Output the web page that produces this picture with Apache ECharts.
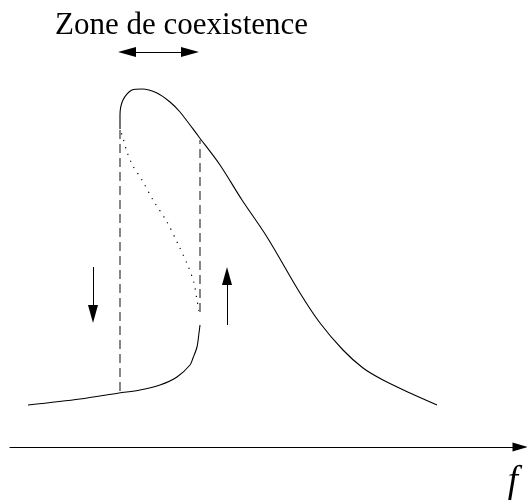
<!DOCTYPE html>
<html>
<head>
<meta charset="utf-8">
<script src="https://cdn.jsdelivr.net/npm/echarts@6/dist/echarts.min.js"></script>
<style>
  html, body { margin: 0; padding: 0; background: #fff; }
  #main { width: 527px; height: 500px; }
</style>
</head>
<body>
<div id="main"></div>
<script>
// branche stable haute (x = frequence, y = amplitude, unites arbitraires)
var upperBranch = [
  [110, 318], [110, 332], [113, 347], [122, 357], [132, 358], [147, 354],
  [160, 345], [170, 335], [189, 310], [210, 282], [232, 247], [257, 210],
  [290, 154], [310, 124], [333, 97], [353, 79], [373, 67], [400, 54], [427, 42]
];
// branche stable basse
var lowerBranch = [
  [18, 42], [70, 48], [109, 54], [130, 57], [150, 62], [167, 70],
  [180, 82], [183, 89], [187, 100], [189, 114], [190, 122]
];
// branche instable (pointillés)
var unstableBranch = [
  [189, 136], [187, 147], [184, 164], [178, 181], [168, 203], [157, 225],
  [143, 247], [132, 267], [123, 281], [117, 295], [113, 309], [110, 318]
];
// limites de la zone de coexistence
var jumpDown = [[110, 56], [110, 320]];
var jumpUp = [[190, 135], [190, 307]];
// flèches (début, pointe)
var arrowDown = [[83, 180], [83, 133]];
var arrowUp = [[217, 122], [217, 171]];
var zoneArrow = [[117, 395], [180, 395]];

var chart = echarts.init(document.getElementById('main'), null, { renderer: 'canvas' });

var black = '#000';
var serif = 'Liberation Serif';
var curve = { color: black, width: 1.1 };

function arrowLine(pts, both) {
  return {
    type: 'line',
    data: [],
    silent: true,
    markLine: {
      silent: true,
      animation: false,
      symbol: both ? ['triangle', 'triangle'] : ['none', 'triangle'],
      symbolSize: [10, 18],
      label: { show: false },
      lineStyle: { color: black, width: 1, type: 'solid' },
      emphasis: { disabled: true },
      data: [[{ coord: pts[0] }, { coord: pts[1] }]]
    }
  };
}

var option = {
  animation: false,
  title: {
    text: 'Zone de coexistence',
    left: 50,
    top: 5,
    textStyle: {
      fontFamily: serif,
      fontWeight: 'normal',
      fontSize: 31,
      color: black
    }
  },
  grid: { left: 10, right: 7, top: 0, bottom: 53, outerBoundsMode: 'none' },
  xAxis: {
    type: 'value',
    min: 0,
    max: 510,
    name: 'f',
    nameLocation: 'end',
    nameGap: 0,
    nameTextStyle: {
      fontFamily: serif,
      fontStyle: 'italic',
      fontSize: 37,
      color: black,
      align: 'right',
      verticalAlign: 'top',
      padding: [17, 2, 0, 0]
    },
    axisLine: {
      show: true,
      symbol: ['none', 'triangle'],
      symbolSize: [9, 15],
      lineStyle: { color: black, width: 1.1 }
    },
    axisTick: { show: false },
    axisLabel: { show: false },
    splitLine: { show: false }
  },
  yAxis: {
    type: 'value',
    min: 0,
    max: 447,
    show: false
  },
  series: [
    { type: 'line', data: upperBranch, smooth: 0.3, symbol: 'none', lineStyle: curve, silent: true },
    { type: 'line', data: lowerBranch, smooth: 0.3, symbol: 'none', lineStyle: curve, silent: true },
    {
      type: 'line', data: unstableBranch, smooth: 0.3, symbol: 'none', silent: true,
      lineStyle: { color: black, width: 1.2, type: [1.2, 6] }
    },
    {
      type: 'line', data: jumpDown, symbol: 'none', silent: true,
      lineStyle: { color: '#7a7a7a', width: 1.8, type: [9, 5] }
    },
    {
      type: 'line', data: jumpUp, symbol: 'none', silent: true,
      lineStyle: { color: '#7a7a7a', width: 1.8, type: [9, 5] }
    },
    arrowLine(arrowDown, false),
    arrowLine(arrowUp, false),
    arrowLine(zoneArrow, true)
  ]
};

chart.setOption(option);
</script>
</body>
</html>
